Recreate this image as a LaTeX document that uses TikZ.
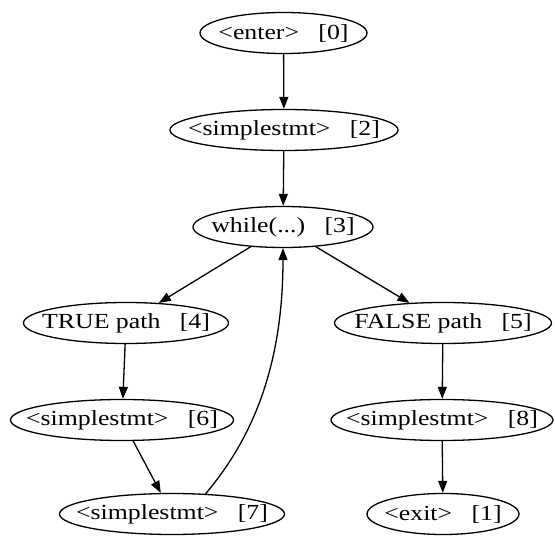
\documentclass[tikz,border=0pt]{standalone}
\usepackage{fontspec}
\setmainfont{Liberation Serif}[FakeStretch=1.2]
\usetikzlibrary{shapes.geometric,arrows.meta}
\tikzset{
  stmt/.style={ellipse, draw, minimum height=41pt, minimum width=#1,
    inner xsep=-20pt, inner ysep=0pt, font=\fontsize{21.5}{24}\selectfont},
  >={Triangle[length=12pt,width=9pt]},
}
\begin{document}
\begin{tikzpicture}[x=1pt,y=1pt,line width=1.3pt]
\useasboundingbox (0,0) rectangle (555,-537);
\node[stmt=167pt] (0) at (283.5,-33) {<enter>~~~[0]};
\node[stmt=228pt] (2) at (284,-130) {<simplestmt>~~~[2]};
\node[stmt=180pt] (3) at (283,-227) {while(...)~~~[3]};
\node[stmt=205pt] (4) at (126,-323) {TRUE path~~~[4]};
\node[stmt=217pt] (5) at (443,-323) {FALSE path~~~[5]};
\node[stmt=223pt] (6) at (122,-420) {<simplestmt>~~~[6]};
\node[stmt=222pt] (8) at (442,-420) {<simplestmt>~~~[8]};
\node[stmt=225pt] (7) at (172,-514) {<simplestmt>~~~[7]};
\node[stmt=152pt] (1) at (443,-514) {<exit>~~~[1]};
\draw[->] (0) to[] (2);
\draw[->] (2) to[] (3);
\draw[->] (3) to[] (4);
\draw[->] (3) to[] (5);
\draw[->] (4) to[] (6);
\draw[->] (6) to[] (7);
\draw[->] (5) to[] (8);
\draw[->] (8) to[] (1);
\draw[->] (7.31) to[out=50, in=-90, out looseness=0.6, in looseness=1.3] (3);
\end{tikzpicture}
\end{document}
